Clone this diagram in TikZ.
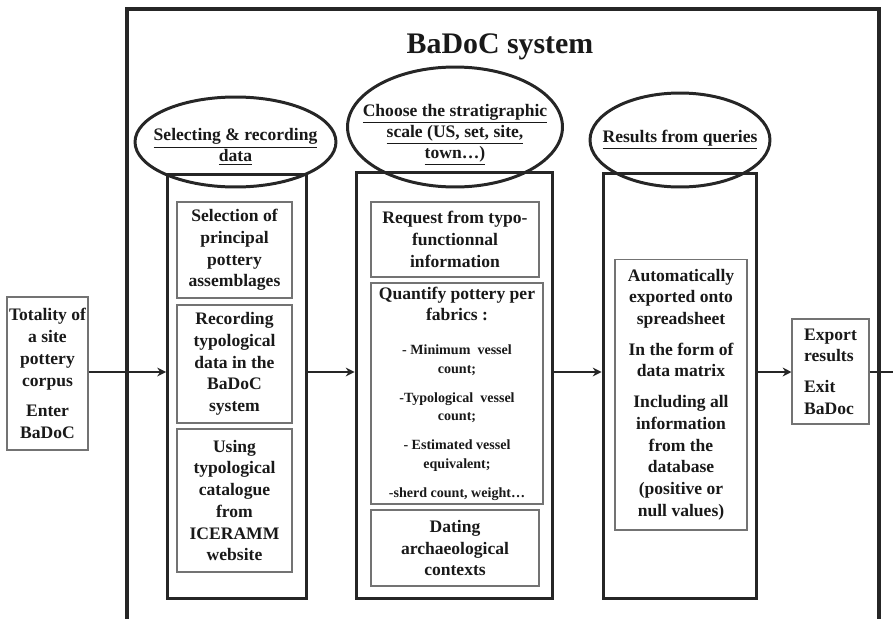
\documentclass[tikz,border=0pt]{standalone}
\usepackage{fontspec}
\setmainfont{Liberation Serif}
\usetikzlibrary{shapes.geometric,arrows.meta}
\tikzset{
	column/.style={draw=black!85, line width=1.7pt},
	entry/.style={draw=black!55, line width=0.6pt, align=center, inner sep=1pt,
		text=black!90, font=\bfseries\fontsize{10}{12.4}\selectfont},
	bubble/.style={ellipse, draw=black!85, line width=1.7pt, inner sep=0pt},
	bubbletext/.style={align=center, text=black!90, font=\bfseries\fontsize{10}{12}\selectfont},
	flow/.style={draw=black!85, line width=1.3pt, -{Stealth[length=5pt,width=5pt]}},
}
\newcommand{\smalltxt}{\fontsize{8}{10}\selectfont}
\begin{document}
\begin{tikzpicture}[x=0.02cm, y=-0.02cm]
				\useasboundingbox (0,0) rectangle (893,619);
				\draw[black!85, line width=2pt] (127,619) -- (127,9) -- (879,9) -- (879,619);
				\node[text=black!90, font=\bfseries\fontsize{17}{20}\selectfont] (title) at (500,47) {BaDoC system};
				% outer boxes
				\node[entry, minimum width=1.62cm, minimum height=3.06cm] (total) at (47.5,373.5) {Totality of\\ a site\\ pottery\\ corpus\\[5pt] Enter\\ BaDoC};
				\node[column, minimum width=2.78cm, minimum height=8.48cm] (col1) at (237,386.5) {};
				\node[column, minimum width=3.94cm, minimum height=8.54cm] (col2) at (454.5,385.5) {};
				\node[column, minimum width=3.08cm, minimum height=8.52cm] (col3) at (680,386) {};
				\node[entry, align=left, minimum width=1.54cm, minimum height=2.10cm] (export) at (830.5,371.5) {Export\\ results\\[5pt] Exit\\ BaDoc};
				% headings
				\node[bubble, minimum width=4.02cm, minimum height=1.80cm] (e1) at (235.5,142) {};
				\node[bubble, minimum width=4.30cm, minimum height=2.40cm] (e2) at (455,127) {};
				\node[bubble, minimum width=3.60cm, minimum height=1.88cm] (e3) at (680,140) {};
				\node[bubbletext] (h1) at ([yshift=-0.1cm]e1.center) {\underline{Selecting \& recording}\\ \underline{data}};
				\node[bubbletext] (h2) at ([yshift=-0.16cm]e2.center) {\underline{Choose the stratigraphic}\\ \underline{scale (US, set, site,}\\ \underline{town…)}};
				\node[bubbletext] (h3) at (e3.center) {\underline{Results from queries}};
				% column 1
				\node[entry, minimum width=2.30cm, minimum height=1.92cm] (s1a) at (234.5,250) {Selection of\\ principal\\ pottery\\ assemblages};
				\node[entry, minimum width=2.30cm, minimum height=2.36cm] (s1b) at (234.5,364) {Recording\\ typological\\ data in the\\ BaDoC\\ system};
				\node[entry, minimum width=2.30cm, minimum height=2.86cm] (s1c) at (234.5,500.5) {Using\\ typological\\ catalogue\\ from\\ ICERAMM\\ website};
				% column 2
				\node[entry, minimum width=3.36cm, minimum height=1.50cm] (s2a) at (455,239.5) {Request from typo-\\ functionnal\\ information};
				\node[entry, minimum width=3.44cm, minimum height=4.42cm] (s2b) at (457,393.5) {Quantify pottery per\\ fabrics :\\[7pt]
					\smalltxt - Minimum\ \ vessel\\[-1.8pt] \smalltxt count;\\[4pt] \smalltxt -Typological\ \ vessel\\[-1.8pt] \smalltxt count;\\[4pt] \smalltxt - Estimated vessel\\[-1.8pt] \smalltxt equivalent;\\[4pt] \smalltxt -sherd count, weight…};
				\node[entry, minimum width=3.36cm, minimum height=1.52cm] (s2c) at (455,548) {Dating\\ archaeological\\ contexts};
				% column 3
				\node[entry, minimum width=2.64cm, minimum height=5.42cm] (s3) at (681,394.5) {Automatically\\ exported onto\\ spreadsheet\\[5pt] In the form of\\ data matrix\\[5pt] Including all\\ information\\ from the\\ database\\ (positive or\\ null values)};
				% flow
				\coordinate (out) at (893,372);
				\draw[flow] (total.east |- out) -- (col1.west |- out);
				\draw[flow] (col1.east |- out) -- (col2.west |- out);
				\draw[flow] (col2.east |- out) -- (col3.west |- out);
				\draw[flow] (col3.east |- out) -- (export.west |- out);
				\draw[black!85, line width=1.3pt] (export.east |- out) -- (out);
\end{tikzpicture}
\end{document}
